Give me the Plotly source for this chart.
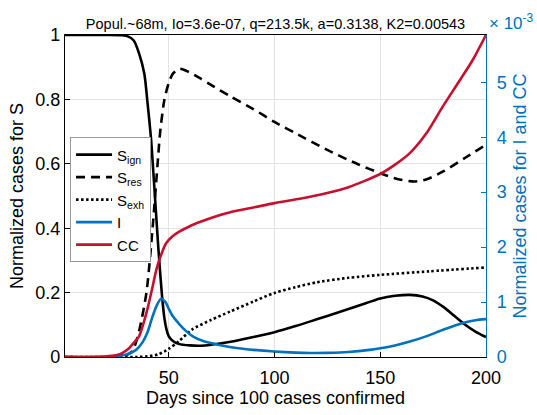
import plotly.graph_objects as go

# Susceptible fractions (left axis)
days_ign = [1, 20, 28, 31, 33.5, 36, 38.5, 40, 41.7, 43, 44, 45, 46, 47, 48, 49, 50, 52, 55, 60, 65, 70,
            80, 90, 100, 110, 120, 130, 140, 150, 157, 164, 170, 175, 180, 185, 190, 195, 200]
s_ign = [1.0, 1.0, 0.999, 0.995, 0.983, 0.943, 0.88, 0.79, 0.675, 0.55, 0.45, 0.35, 0.26, 0.18, 0.12,
         0.085, 0.065, 0.05, 0.04, 0.036, 0.035, 0.038, 0.048, 0.062, 0.077, 0.096, 0.117, 0.138, 0.16,
         0.182, 0.19, 0.193, 0.188, 0.176, 0.155, 0.128, 0.101, 0.079, 0.062]

days_res = [1, 28, 30, 33, 36, 39.5, 42.4, 45, 46, 48, 50, 52, 55, 58, 65, 70, 79, 90, 100, 110, 125,
            140, 150, 158, 166, 172, 180, 190, 200]
s_res = [0.0, 0.0, 0.005, 0.02, 0.08, 0.2, 0.4, 0.62, 0.7, 0.8, 0.85, 0.88, 0.895, 0.89, 0.865, 0.845,
         0.81, 0.77, 0.73, 0.695, 0.643, 0.597, 0.571, 0.553, 0.545, 0.552, 0.577, 0.618, 0.659]

days_exh = [1, 35, 40, 45, 50, 55, 61, 70, 79, 90, 100, 110, 120, 135, 150, 173, 200]
s_exh = [0.0, 0.0, 0.002, 0.008, 0.025, 0.05, 0.085, 0.115, 0.141, 0.172, 0.199, 0.217, 0.232, 0.246,
         0.255, 0.266, 0.278]

# Infected and cumulative cases, in units of 1e-3 (right axis)
days_i = [1, 20, 25, 30, 34.6, 37.7, 40, 42.4, 44.5, 46.4, 48.5, 50, 52, 55, 58, 61.4, 67, 74, 83, 90,
          100, 110, 117, 125, 135, 145, 150, 157, 164, 172, 180, 189, 195, 200]
i_e3 = [0.0, 0.005, 0.015, 0.045, 0.13, 0.27, 0.45, 0.74, 0.95, 1.06, 1.0, 0.88, 0.74, 0.6, 0.48, 0.375,
        0.28, 0.22, 0.16, 0.13, 0.1, 0.08, 0.073, 0.075, 0.09, 0.13, 0.16, 0.21, 0.28, 0.38, 0.5, 0.62,
        0.67, 0.69]

days_cc = [1, 20, 25, 28, 31, 34, 36, 38, 40, 42.4, 44, 45.6, 48.8, 52, 55, 60, 65, 70, 78.7, 90, 100,
           112, 124.5, 135, 150, 157, 164, 172, 179.6, 187, 193.8, 200]
cc_e3 = [0.0, 0.01, 0.03, 0.07, 0.15, 0.28, 0.375, 0.6, 0.88, 1.28, 1.56, 1.77, 2.07, 2.2, 2.28, 2.38,
         2.46, 2.53, 2.63, 2.72, 2.8, 2.88, 2.98, 3.09, 3.33, 3.5, 3.71, 4.08, 4.56, 5.0, 5.41, 5.86]

x_ticks = [50, 100, 150, 200]
y_ticks = [0, 0.2, 0.4, 0.6, 0.8, 1]
y_ticktext = ["0", "0.2", "0.4", "0.6", "0.8", "1"]
y2_ticks = [0, 1, 2, 3, 4, 5]

BLUE = "#0072BD"
RED = "#C8102E"
FONT = "Liberation Sans, Arial, sans-serif"
LW = 2.6

fig = go.Figure()
line_kw = dict(shape="spline", smoothing=0.7, width=LW)
fig.add_trace(go.Scatter(x=days_ign, y=s_ign, mode="lines", name="S<sub>ign</sub>",
                         line=dict(color="black", **line_kw)))
fig.add_trace(go.Scatter(x=days_res, y=s_res, mode="lines", name="S<sub>res</sub>",
                         line=dict(color="black", dash="9px,6px", **line_kw)))
fig.add_trace(go.Scatter(x=days_exh, y=s_exh, mode="lines", name="S<sub>exh</sub>",
                         line=dict(color="black", dash="2.5px,2.5px", **line_kw)))
fig.add_trace(go.Scatter(x=days_i, y=i_e3, mode="lines", name="I", yaxis="y2",
                         line=dict(color=BLUE, **line_kw)))
fig.add_trace(go.Scatter(x=days_cc, y=cc_e3, mode="lines", name="CC", yaxis="y2",
                         line=dict(color=RED, **line_kw)))

fig.update_layout(
    width=537, height=415,
    margin=dict(l=65, r=51, t=35, b=58),
    paper_bgcolor="white", plot_bgcolor="white",
    font=dict(family=FONT, size=18, color="black"),
    showlegend=True,
    title=dict(text="Popul.~68m, Io=3.6e-07, q=213.5k, a=0.3138, K2=0.00543",
               font=dict(size=14.5, color="black"), x=0.5, xref="paper", xanchor="center",
               y=1 - 24 / 415, yref="container", yanchor="middle"),
    xaxis=dict(range=[1, 200], tickvals=x_ticks, showgrid=True, gridcolor="#e3e3e3", gridwidth=1,
               zeroline=False, showline=True, linecolor="black", linewidth=1.2, mirror=True,
               ticks="inside", ticklen=5, tickcolor="black", tickfont=dict(size=18),
               ticklabelstandoff=4,
               title=dict(text="Days since 100 cases confirmed", font=dict(size=18), standoff=3)),
    yaxis=dict(range=[0, 1], tickvals=y_ticks, ticktext=y_ticktext, showgrid=True,
               gridcolor="#e3e3e3", gridwidth=1, zeroline=False, showline=True, linecolor="black",
               linewidth=1.2, ticks="inside", ticklen=5, tickcolor="black", tickfont=dict(size=18),
               title=dict(text="Normalized cases for S", font=dict(size=18), standoff=6)),
    yaxis2=dict(range=[0, 5.86], tickvals=y2_ticks, overlaying="y", side="right", showgrid=False,
                zeroline=False, showline=True, linecolor=BLUE, linewidth=1.2, ticks="inside",
                ticklen=5, tickcolor=BLUE, tickfont=dict(size=18, color=BLUE),
                ticklabelstandoff=6,
                title=dict(text="Normalized cases for I and CC", font=dict(size=18, color=BLUE),
                           standoff=7)),
    legend=dict(x=0.012, y=0.682, xanchor="left", yanchor="top", bgcolor="white",
                bordercolor="#999999", borderwidth=1, font=dict(size=15),
                tracegroupgap=0, itemwidth=36),
    annotations=[dict(text="× 10<sup>-3</sup>", xref="paper", yref="paper", x=1.003, y=1.04,
                      xanchor="left", yanchor="middle", showarrow=False,
                      font=dict(size=17, color=BLUE))],
)

fig.write_html("out.html")
